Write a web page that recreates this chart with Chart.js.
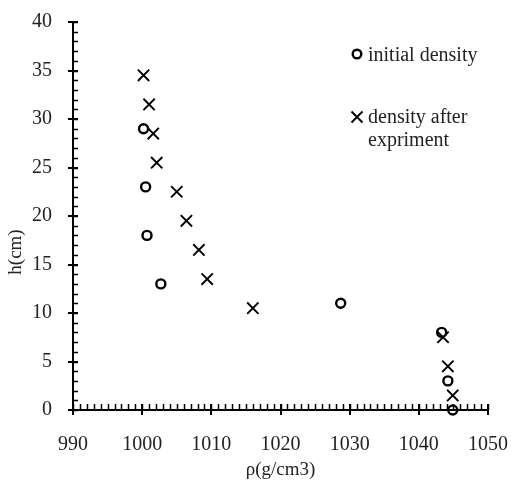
<!DOCTYPE html>
<html>
<head>
<meta charset="utf-8">
<script src="https://cdn.jsdelivr.net/npm/chart.js@4"></script>
<style>
  html, body { margin: 0; padding: 0; background: #fff; }
  #wrap { width: 512px; height: 483px; position: relative; }
</style>
</head>
<body>
<div id="wrap"><canvas id="c"></canvas></div>
<script>
// data
const initialX = [1000.2, 1000.5, 1000.7, 1002.7, 1028.7, 1043.3, 1044.2, 1044.9];
const initialY = [29, 23, 18, 13, 11, 8, 3, 0];
const afterX = [1000.2, 1001.0, 1001.6, 1002.1, 1005.0, 1006.4, 1008.2, 1009.4, 1016.0, 1043.5, 1044.2, 1044.9];
const afterY = [34.5, 31.5, 28.5, 25.5, 22.5, 19.5, 16.5, 13.5, 10.5, 7.5, 4.5, 1.5];
const xRange = [990, 1050];
const yRange = [0, 40];
const xTitle = 'ρ(g/cm3)';
const yTitle = 'h(cm)';
const legendLabels = [['initial density'], ['density after', 'expriment']];

const FONT = "'Liberation Serif', 'Times New Roman', serif";

// ── axis lines, tick marks, titles, legend ────────────────────────────────
const decor = {
  id: 'decor',
  afterDraw(chart) {
    const { ctx, chartArea: a, scales: { x, y } } = chart;
    ctx.save();
    ctx.strokeStyle = '#000';

    // minor ticks (inside)
    ctx.lineWidth = 1.5;
    ctx.beginPath();
    for (let v = yRange[0]; v <= yRange[1]; v++) {
      const py = Math.round(y.getPixelForValue(v)) + 0.5;
      ctx.moveTo(a.left, py); ctx.lineTo(a.left + 5, py);
    }
    for (let v = xRange[0]; v <= xRange[1]; v++) {
      const px = Math.round(x.getPixelForValue(v)) + 0.5;
      ctx.moveTo(px, a.bottom); ctx.lineTo(px, a.bottom - 6);
    }
    ctx.stroke();

    // major ticks (cross)
    ctx.lineWidth = 2;
    ctx.beginPath();
    for (let v = yRange[0]; v <= yRange[1]; v += 5) {
      const py = Math.round(y.getPixelForValue(v));
      ctx.moveTo(a.left - 5, py); ctx.lineTo(a.left + 5, py);
    }
    for (let v = xRange[0]; v <= xRange[1]; v += 10) {
      const px = Math.round(x.getPixelForValue(v));
      ctx.moveTo(px, a.bottom + 5); ctx.lineTo(px, a.bottom - 6);
    }
    ctx.stroke();

    // axis lines
    ctx.lineWidth = 2;
    ctx.beginPath();
    ctx.moveTo(a.left, a.top); ctx.lineTo(a.left, a.bottom); ctx.lineTo(a.right, a.bottom);
    ctx.stroke();

    // titles
    ctx.fillStyle = '#222';
    ctx.font = '19px ' + FONT;
    ctx.textAlign = 'center';
    ctx.textBaseline = 'middle';
    ctx.fillText(xTitle, (a.left + a.right) / 2, 470);
    ctx.save();
    ctx.translate(16, 252);
    ctx.rotate(-Math.PI / 2);
    ctx.fillText(yTitle, 0, 0);
    ctx.restore();

    // legend
    ctx.textAlign = 'left';
    ctx.textBaseline = 'alphabetic';
    ctx.font = '20px ' + FONT;
    ctx.lineWidth = 2.4;
    ctx.beginPath(); ctx.arc(357, 54, 4.3, 0, Math.PI * 2); ctx.stroke();
    ctx.fillText(legendLabels[0][0], 368, 61);
    ctx.lineWidth = 1.9;
    ctx.beginPath();
    ctx.moveTo(351.5, 111.5); ctx.lineTo(362.5, 122.5);
    ctx.moveTo(362.5, 111.5); ctx.lineTo(351.5, 122.5);
    ctx.stroke();
    ctx.fillText(legendLabels[1][0], 368, 123);
    ctx.fillText(legendLabels[1][1], 368, 146);

    ctx.restore();
  }
};

const toPts = (xs, ys) => xs.map((v, i) => ({ x: v, y: ys[i] }));

// no extra room for overhanging tick labels: the layout padding decides
function noPad(s) { s.paddingLeft = 0; s.paddingRight = 0; s.paddingTop = 0; s.paddingBottom = 0; }

new Chart(document.getElementById('c'), {
  type: 'scatter',
  data: {
    datasets: [
      {
        label: 'initial density',
        data: toPts(initialX, initialY),
        pointStyle: 'circle',
        pointRadius: 4.5,
        pointBorderWidth: 2.4,
        borderColor: '#000',
        backgroundColor: 'rgba(0,0,0,0)',
        clip: false
      },
      {
        label: 'density after expriment',
        data: toPts(afterX, afterY),
        pointStyle: 'crossRot',
        pointRadius: 8,
        pointBorderWidth: 1.9,
        borderColor: '#000',
        backgroundColor: '#000',
        clip: false
      }
    ]
  },
  options: {
    responsive: true,
    maintainAspectRatio: false,
    animation: false,
    events: [],
    layout: { padding: { top: 22, right: 24, left: 0, bottom: 0 } },
    plugins: { legend: { display: false }, tooltip: { enabled: false } },
    scales: {
      x: {
        type: 'linear',
        min: xRange[0], max: xRange[1],
        grid: { display: false, drawTicks: false },
        border: { display: false },
        afterFit: s => { s.height = 73; noPad(s); },
        ticks: { stepSize: 10, padding: 23, color: '#222', font: { size: 20, family: FONT }, maxRotation: 0,
          callback: v => String(v) }
      },
      y: {
        type: 'linear',
        min: yRange[0], max: yRange[1],
        grid: { display: false, drawTicks: false },
        border: { display: false },
        afterFit: s => { s.width = 73; noPad(s); },
        ticks: { stepSize: 5, padding: 21, color: '#222', font: { size: 20, family: FONT },
          callback: v => String(v) }
      }
    }
  },
  plugins: [decor]
});
</script>
</body>
</html>
